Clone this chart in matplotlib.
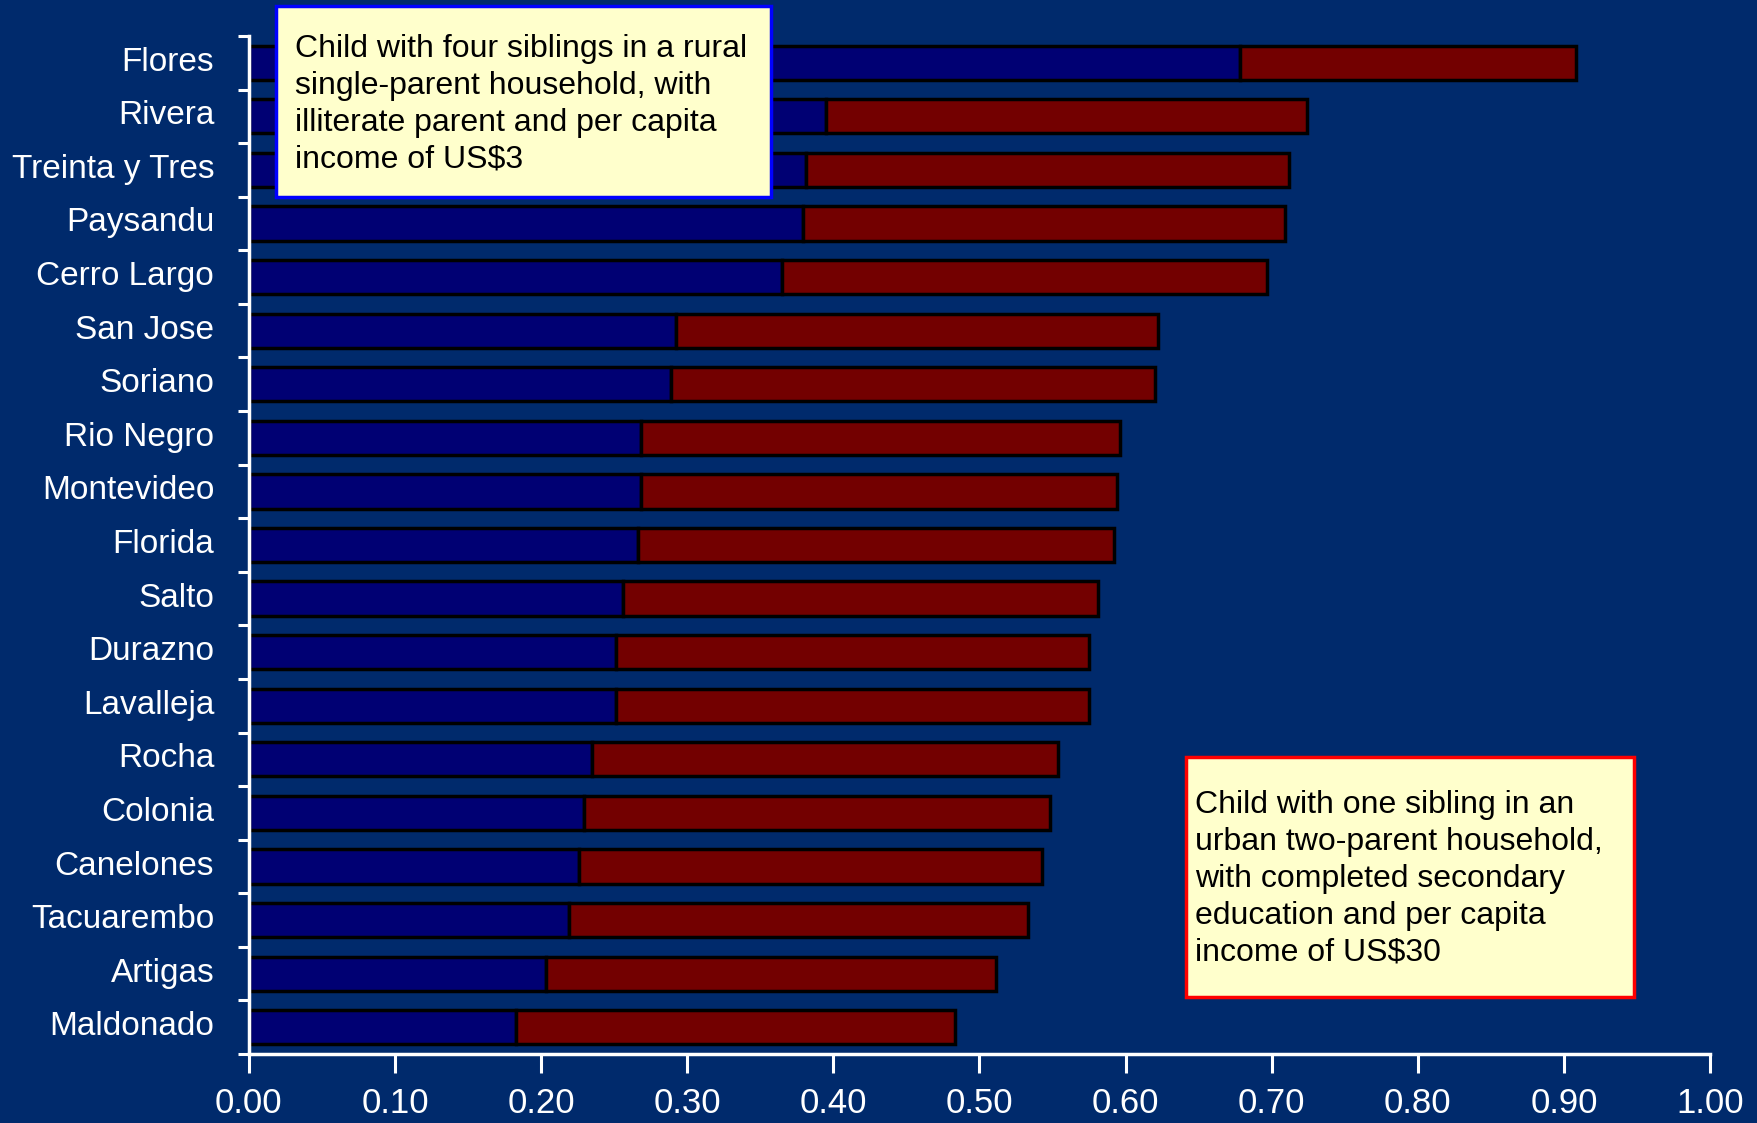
import numpy as np
import matplotlib
matplotlib.use("Agg")
from matplotlib import pyplot as plt
from matplotlib import transforms
from matplotlib.ticker import FixedLocator
from matplotlib.patches import Rectangle

# departments, top to bottom
regions = ["Flores", "Rivera", "Treinta y Tres", "Paysandu", "Cerro Largo",
           "San Jose", "Soriano", "Rio Negro", "Montevideo", "Florida",
           "Salto", "Durazno", "Lavalleja", "Rocha", "Colonia",
           "Canelones", "Tacuarembo", "Artigas", "Maldonado"]
# low-opportunity child (blue) and full bar end (red starts where blue stops)
low = [0.678, 0.395, 0.381, 0.379, 0.365, 0.292, 0.289, 0.268, 0.268, 0.266,
       0.256, 0.251, 0.251, 0.235, 0.229, 0.226, 0.219, 0.203, 0.183]
high = [0.908, 0.724, 0.712, 0.709, 0.697, 0.622, 0.620, 0.596, 0.594, 0.592,
        0.581, 0.575, 0.575, 0.554, 0.548, 0.543, 0.533, 0.511, 0.483]
xticks = [0.0, 0.1, 0.2, 0.3, 0.4, 0.5, 0.6, 0.7, 0.8, 0.9, 1.0]

bg = "#002A6C"
navy = "#000073"
maroon = "#730000"

plt.rcParams['font.family'] = ['Liberation Sans', 'DejaVu Sans']

fig = plt.figure(figsize=(17.58, 11.23), dpi=100, facecolor=bg)
ax = fig.add_axes([0.1416, 0.0614, 0.9727 - 0.1416, 0.968 - 0.0614])
ax.set_facecolor(bg)

y = np.arange(len(regions))
low = np.array(low)
high = np.array(high)
ax.barh(y, low, height=0.64, color=navy, edgecolor="black", linewidth=2.5)
ax.barh(y, high - low, left=low, height=0.64, color=maroon,
        edgecolor="black", linewidth=2.5)

ax.set_xlim(0, 1.0)
ax.set_ylim(len(regions) - 0.5, -0.5)

for s in ["top", "right"]:
    ax.spines[s].set_visible(False)
for s in ["left", "bottom"]:
    ax.spines[s].set_color("white")
    ax.spines[s].set_linewidth(2.5)

ax.set_xticks(xticks)
ax.set_xticklabels(["%.2f" % v for v in xticks])
ax.tick_params(axis="x", colors="white", length=14, width=2.2, pad=10,
               labelsize=25, direction="out")

ax.set_yticks(y)
ax.set_yticklabels(regions)
ax.tick_params(axis="y", which="major", length=0, pad=25, labelsize=24,
               labelcolor="white")
# labels sit a few pixels above the bar centres in the original
shift = transforms.ScaledTranslation(0, 0.04, fig.dpi_scale_trans)
for lbl in ax.get_yticklabels():
    lbl.set_transform(lbl.get_transform() + shift)
ax.yaxis.set_minor_locator(FixedLocator(np.arange(-0.5, len(regions), 1.0)))
ax.tick_params(axis="y", which="minor", length=8, width=2.2, color="white",
               direction="out")

# annotation boxes
fig.add_artist(Rectangle((0.157, 0.8246), 0.4386 - 0.157, 0.9947 - 0.8246,
                         transform=fig.transFigure, fc="#FFFFCC", ec="#0000FF",
                         lw=2.5, zorder=5))
fig.text(0.1678, 0.907,
         "Child with four siblings in a rural\nsingle-parent household, with\n"
         "illiterate parent and per capita\nincome of US$3",
         fontsize=23, va="center", ha="left", color="black", linespacing=1.3,
         zorder=6)

fig.add_artist(Rectangle((0.6746, 0.1122), 0.9295 - 0.6746, 0.3259 - 0.1122,
                         transform=fig.transFigure, fc="#FFFFCC", ec="#FF0000",
                         lw=2.5, zorder=5))
fig.text(0.6797, 0.2173,
         "Child with one sibling in an\nurban two-parent household,\n"
         "with completed secondary\neducation and per capita\nincome of US$30",
         fontsize=23, va="center", ha="left", color="black", linespacing=1.3,
         zorder=6)

fig.savefig("out.png", dpi=100, facecolor=bg)
